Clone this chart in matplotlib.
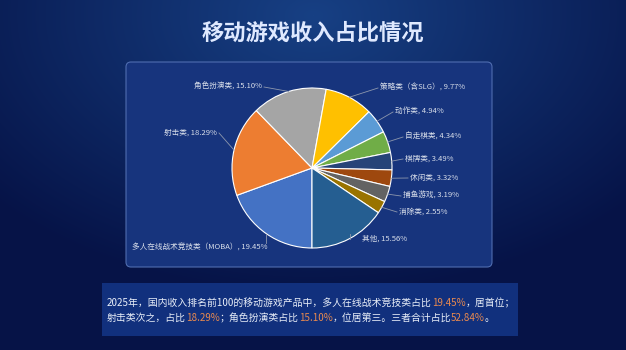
import numpy as np
import matplotlib.pyplot as plt
from matplotlib.patches import FancyBboxPatch, Rectangle

plt.rcParams['font.family'] = ['Noto Sans CJK SC', 'DejaVu Sans']

# dati: quote di ricavo per categoria (ordine orario a partire dal basso)
categorie = ['多人在线战术竞技类（MOBA）', '射击类', '角色扮演类', '策略类（含SLG）', '动作类',
             '自走棋类', '棋牌类', '休闲类', '捕鱼游戏', '消除类', '其他']
quote = [19.45, 18.29, 15.10, 9.77, 4.94, 4.34, 3.49, 3.32, 3.19, 2.55, 15.56]
colori = ['#4472c4', '#ed7d31', '#a5a5a5', '#ffc000', '#5b9bd5', '#70ad47',
          '#264478', '#9e480e', '#636363', '#997300', '#255e91']
titolo = '移动游戏收入占比情况'

# posizione delle etichette (pixel immagine: x, y, allineamento)
pos_etichette = [(267, 248, 'right'), (217, 133, 'right'), (262, 87, 'right'),
                 (380, 88, 'left'), (395, 112, 'left'), (405, 137, 'left'),
                 (405, 159, 'left'), (410, 178, 'left'), (403, 196, 'left'),
                 (399, 212, 'left'), (362, 239, 'left')]

W, H = 626, 350
fig = plt.figure(figsize=[6.26, 3.5], dpi=100)
ax = fig.add_axes([0, 0, 1, 1])

# sfondo sfumato
yy, xx = np.mgrid[0:H, 0:W]
d = np.sqrt(((xx - 313) / 430) ** 2 + ((yy - 15) / 280) ** 2)
t = np.clip(d, 0, 1)[..., None]
interno = np.array([0x17, 0x40, 0x84]) / 255
esterno = np.array([0x06, 0x13, 0x47]) / 255
sfondo = interno * (1 - t) + esterno * t
ax.imshow(sfondo, extent=(0, W, 0, H), origin='upper', aspect='auto', zorder=0)

# pannello del grafico
pannello = FancyBboxPatch((126, H - 267), 366, 205, boxstyle='round,pad=0,rounding_size=5',
                          fc='#17347d', ec='#4f6db0', lw=0.8, zorder=1)
ax.add_patch(pannello)

# riquadro del testo in basso
ax.add_patch(Rectangle((102, H - 336), 416, 53, fc='#11307d', ec='none', zorder=1))

ax.text(W / 2, H - 33, titolo, ha='center', va='center', fontsize=16,
        fontweight='bold', color='#dfe9ff', zorder=3)

cx, cy, r = 312, H - 168, 80
wedges, _ = ax.pie(quote, colors=colori, startangle=270, counterclock=False,
                   center=(cx, cy), radius=r,
                   wedgeprops=dict(edgecolor='white', linewidth=0.8, zorder=2))

for w, cat, v, (tx, ty, ha) in zip(wedges, categorie, quote, pos_etichette):
    ang = np.deg2rad((w.theta1 + w.theta2) / 2)
    ex, ey = cx + r * np.cos(ang), cy + r * np.sin(ang)
    ty = H - ty
    lx = tx - 2 if ha == 'left' else tx + 2
    ly = ty
    if ty < cy - 0.8 * r:
        lx, ly = ex, ty + 5
    ax.plot([ex, lx], [ey, ly], color='#8d97ad', lw=0.6, zorder=2)
    ax.text(tx, ty, '{}, {:.2f}%'.format(cat, v), ha=ha, va='center',
            fontsize=5.5, color='#d8deea', zorder=3)

# testo descrittivo con numeri evidenziati
bianco = '#e8eef8'
arancio = '#e8894f'
top3 = sum(quote[:3])
righe = [
    [('2025年，国内收入排名前100的移动游戏产品中，多人在线战术竞技类占比', bianco),
     ('{:.2f}%'.format(quote[0]), arancio), ('，居首位；', bianco)],
    [('射击类次之，占比', bianco), ('{:.2f}%'.format(quote[1]), arancio),
     ('；角色扮演类占比', bianco), ('{:.2f}%'.format(quote[2]), arancio),
     ('，位居第三。三者合计占比', bianco), ('{:.2f}%'.format(top3), arancio),
     ('。', bianco)],
]
for riga, y0 in zip(righe, [H - 303, H - 318]):
    prec = None
    for s, c in riga:
        if prec is None:
            prec = ax.text(107, y0, s, color=c, fontsize=7.1, va='center', ha='left', zorder=3)
        else:
            prec = ax.annotate(s, xy=(1, 0), xycoords=prec, color=c, fontsize=7.1,
                               va='bottom', ha='left', zorder=3)

ax.set_xlim(0, W)
ax.set_ylim(0, H)
ax.set_aspect('auto')
ax.axis('off')
plt.savefig('out.png', dpi=100)
